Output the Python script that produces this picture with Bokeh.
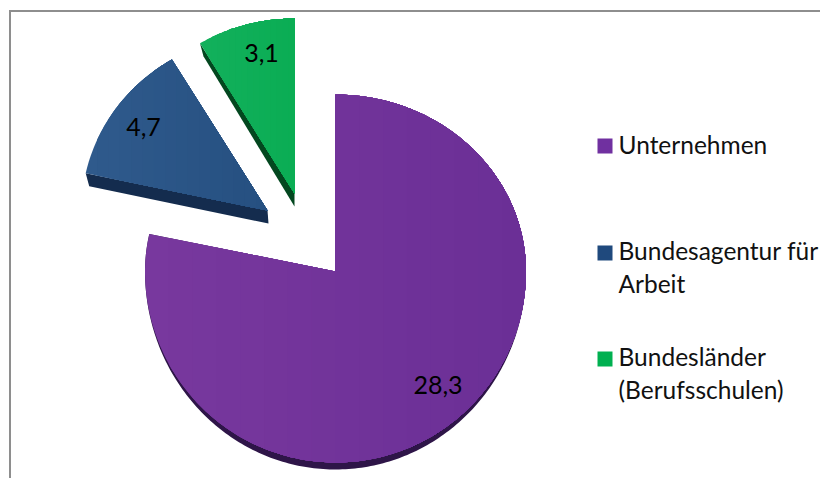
import math
from bokeh.plotting import figure
from bokeh.models import Range1d
from bokeh.core.properties import value
from bokeh.embed import file_html
from bokeh.resources import INLINE

# --- data -------------------------------------------------------------
categories = ["Unternehmen", "Bundesagentur für\nArbeit", "Bundesländer\n(Berufsschulen)"]
values = [28.3, 4.7, 3.1]
value_labels = ["28,3", "4,7", "3,1"]

# --- style / layout ---------------------------------------------------
FONT = "Lato"
legend_colors = ["#7030A0", "#1F497D", "#00B050"]
side_colors = ["#2E1548", "#142C4E", "#03471F"]
grad_left = ["#78389E", "#2F5A8C", "#12B05C"]
grad_right = ["#6B2F96", "#265081", "#0BAD54"]
apex = [(335, 271), (267, 210), (294, 193)]
rx = [190.5, 186, 184]
ry_top = [177, 176, 175]
ry_bot = [191, 176, 175]
label_pos = [(437.5, 384), (143, 126.5), (261, 52.5)]
legend_y = [145.5, 252.5, 358.5]
text_y = [144, 250, 356]
LINE_H = 32.5


def arc_point(i, theta, extra_bottom=0):
    ax, ay = apex[i]
    s, c = math.sin(theta), math.cos(theta)
    r = ry_top[i] if c >= 0 else ry_bot[i] + extra_bottom
    return ax + rx[i] * s, ay - r * c


def wedge(i, t0, t1, extra_bottom=0):
    n = max(4, int((t1 - t0) * 60))
    pts = [arc_point(i, t0 + (t1 - t0) * k / n, extra_bottom) for k in range(n + 1)]
    return [apex[i]] + pts


def clip_right(poly, xc):
    out = []
    for k, (x0, y0) in enumerate(poly):
        x1, y1 = poly[(k + 1) % len(poly)]
        if x0 >= xc:
            out.append((x0, y0))
        if (x0 >= xc) != (x1 >= xc):
            f = (xc - x0) / (x1 - x0)
            out.append((xc, y0 + f * (y1 - y0)))
    return out


def mix(a, b, f):
    ca = [int(a[j:j + 2], 16) for j in (1, 3, 5)]
    cb = [int(b[j:j + 2], 16) for j in (1, 3, 5)]
    return "#%02x%02x%02x" % tuple(round(p + (q - p) * f) for p, q in zip(ca, cb))


p = figure(width=820, height=478, output_backend="svg", toolbar_location=None,
           x_range=Range1d(0, 820), y_range=Range1d(478, 0),
           x_axis_type=None, y_axis_type=None, min_border=0, outline_line_color=None)
p.grid.visible = False
p.background_fill_color = "white"
p.border_fill_color = "white"

# chart frame
p.segment([8.5, 9.5], [10.5, 10.5], [820, 9.5], [10.5, 478], line_color="#8E8E8E", line_width=2)

total = sum(values)
start = 0.0
for i, v in enumerate(values):
    sweep = v / total * 2 * math.pi
    t0, t1 = start, start + sweep
    start = t1
    top = wedge(i, t0, t1)
    # side of the slice
    if i == 0:
        side = wedge(i, t0, t1, extra_bottom=7)
    else:
        ox, oy = arc_point(i, t0)
        ax, ay = apex[i]
        side = [(ax, ay), (ox, oy), (ox + 3.5, oy + 13), (ax + (1 if i == 1 else 0), ay + 13)]
    p.patch([q[0] for q in side], [q[1] for q in side], fill_color=side_colors[i], line_color=None)
    # top surface: soft horizontal gradient painted in successive bands
    xs = [q[0] for q in top]
    xmin, xmax = min(xs), max(xs)
    bands = 16
    for b in range(bands):
        xc = xmin + (xmax - xmin) * b / bands
        poly = clip_right(top, xc) if b else top
        p.patch([q[0] for q in poly], [q[1] for q in poly],
                fill_color=mix(grad_left[i], grad_right[i], b / (bands - 1)), line_color=None)

# data labels
p.text([q[0] for q in label_pos], [q[1] for q in label_pos], text=value_labels,
       text_font=value(FONT), text_font_size="25px", text_color="black",
       text_align="center", text_baseline="middle")

# legend
p.scatter([604.5] * 3, legend_y, size=15, marker="square", fill_color=legend_colors, line_color=None)
tx, ty, tt = [], [], []
for y, name in zip(text_y, categories):
    for k, line in enumerate(name.split("\n")):
        tx.append(618)
        ty.append(y + k * LINE_H)
        tt.append(line)
p.text(tx, ty, text=tt, text_font=value(FONT), text_font_size="24.5px", text_color="#111111",
       text_align="left", text_baseline="middle")

open("out.html", "w").write(file_html(p, INLINE))
